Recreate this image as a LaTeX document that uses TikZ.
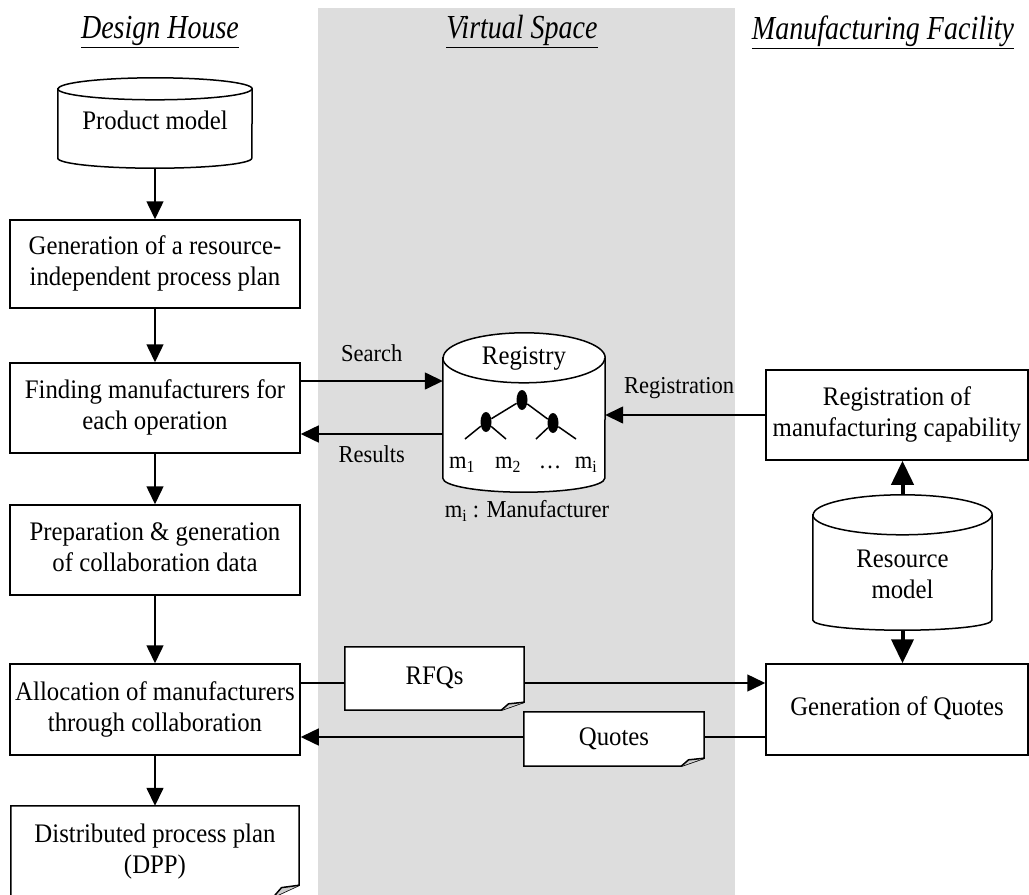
\documentclass[tikz,border=0pt]{standalone}
\usepackage{fontspec}
\setmainfont{Liberation Serif}
\usepackage{graphicx}
\usetikzlibrary{arrows.meta,shapes.geometric}
\definecolor{bandgray}{RGB}{221,221,221}
\definecolor{foldgray}{RGB}{205,205,205}
\pgfdeclarelayer{back}
\pgfdeclarelayer{shapes}
\pgfsetlayers{back,shapes,main}
\newcommand\bodyfont{\fontsize{24.8}{29}\selectfont}
\newcommand\smallfont{\fontsize{22.5}{26}\selectfont}
\newcommand\headfont{\fontsize{28}{32}\selectfont\itshape}
\newcommand\heading[1]{\scalebox{1}[1.2]{\underline{#1}}}
% slightly tall lettering, one or more centred lines
\newcommand\tx[1]{\scalebox{1}[1.08]{\begin{tabular}{@{}c@{}}#1\end{tabular}}}
% drum (database) outline around a named node: #1 node, #2 x radius, #3 top ry, #4 bottom ry
\newcommand\drawdrum[4]{%
  \begin{pgfonlayer}{shapes}
    \filldraw[shapeline, fill=white]
      ([yshift=-#3]#1.north west) -- ([yshift=#4]#1.south west)
      arc[start angle=180, end angle=360, x radius=#2, y radius=#4]
      -- ([yshift=-#3]#1.north east)
      arc[start angle=0, end angle=180, x radius=#2, y radius=#3] -- cycle;
    \draw[shapeline] ([yshift=-#3]#1.north west)
      arc[start angle=180, end angle=360, x radius=#2, y radius=#3];
  \end{pgfonlayer}}
% document sheet with a curled lower right corner: #1 node, #2 fold width, #3 fold height
\newcommand\drawdoc[3]{%
  \begin{pgfonlayer}{shapes}
    \filldraw[shapeline, fill=white]
      (#1.north west) -- (#1.north east) -- ([yshift=#3]#1.south east)
      -- ([xshift=-#2]#1.south east) -- (#1.south west) -- cycle;
    \filldraw[shapeline, fill=foldgray, line join=round]
      ([xshift=-#2]#1.south east) -- ([xshift={-0.68*#2}, yshift={0.8*#3}]#1.south east)
      -- ([yshift=#3]#1.south east);
  \end{pgfonlayer}}

\begin{document}
\begin{tikzpicture}[x=1pt, y=-1pt,
  shapeline/.style={line width=1.5pt, line join=miter},
  box/.style={draw, line width=1.5pt, fill=white, rectangle, inner sep=0pt,
    align=center, font=\bodyfont, minimum width=290pt},
  holder/.style={rectangle, inner sep=0pt, align=center, font=\bodyfont},
  conn/.style={line width=1.5pt},
  arr/.style={line width=1.5pt, -{Triangle[length=18pt,width=17pt]}},
  fatarr/.style={line width=4pt, -{Triangle[length=24pt,width=22pt]}},
  lbl/.style={font=\smallfont, inner sep=0pt},
  knot/.style={ellipse, fill=black, inner sep=0pt, minimum width=11pt, minimum height=20pt},
  twig/.style={line width=1.5pt},
  hdr/.style={font=\headfont, inner sep=0pt}]
\useasboundingbox (0,0) rectangle (1029,895);

% middle lane
\begin{pgfonlayer}{back}
  \fill[bandgray] (318,8) rectangle (735,895);
\end{pgfonlayer}

% lane titles
\node[hdr] (hDesign) at (160,32) {\heading{Design House}};
\node[hdr] (hVirtual) at (522,32) {\heading{Virtual Space}};
\node[hdr] (hFactory) at (883,32) {\heading{Manufacturing Facility}};

% design house flow
\node[holder, minimum width=194pt, minimum height=90pt] (pm) at (155,123) {\tx{Product model}};
\drawdrum{pm}{97pt}{11pt}{10pt}
\node[box, minimum height=88pt] (b2) at (155,264) {\tx{Generation of a resource-\\independent process plan}};
\node[box, minimum height=90pt] (b3) at (155,408) {\tx{Finding manufacturers for\\each operation}};
\node[box, minimum height=90pt] (b4) at (155,550) {\tx{Preparation \& generation\\of collaboration data}};
\node[box, minimum height=91pt] (b5) at (155,709.5) {\tx{Allocation of manufacturers\\through collaboration}};
\node[holder, minimum width=288pt, minimum height=91pt] (dpp) at (155,851.5) {\tx{Distributed process plan\\(DPP)}};
\drawdoc{dpp}{26pt}{12pt}

\draw[arr] (pm) -- (b2);
\draw[arr] (b2) -- (b3);
\draw[arr] (b3) -- (b4);
\draw[arr] (b4) -- (b5);
\draw[arr] (b5) -- (dpp);

% registry
\node[holder, minimum width=162pt, minimum height=159pt] (reg) at (524,412.5) {};
\drawdrum{reg}{81pt}{25pt}{14pt}
\node[holder] (regtxt) at (524,358) {\tx{Registry}};
\node[knot] (k0) at (522,400) {};
\node[knot] (k1) at (486,422) {};
\node[knot] (k2) at (553,423) {};
\coordinate (l1) at (465,439);
\coordinate (l2) at (506,439);
\coordinate (l3) at (536,439);
\coordinate (l4) at (576,439);
\draw[twig] (k0) -- (k1);
\draw[twig] (k0) -- (k2);
\draw[twig] (k1) -- (l1);
\draw[twig] (k1) -- (l2);
\draw[twig] (k2) -- (l3);
\draw[twig] (k2) -- (l4);
\node[lbl] (m1) at (462,463) {\tx{m\textsubscript{1}}};
\node[lbl] (m2) at (508,463) {\tx{m\textsubscript{2}}};
\node[lbl] (mdots) at (550,463) {\tx{\dots}};
\node[lbl] (mi) at (586,463) {\tx{m\textsubscript{i}}};
\node[lbl] (mkey) at (527,512) {\tx{m\textsubscript{i} : Manufacturer}};

\draw[arr] ([yshift=27pt]b3.east) -- ([yshift=27pt]b3.east -| reg.west)
  node[lbl, midway, above=10pt] {\tx{Search}};
\draw[arr] ([yshift=-26pt]b3.east -| reg.west) -- ([yshift=-26pt]b3.east)
  node[lbl, midway, below=8pt] {\tx{Results}};

% manufacturing facility
\node[box, minimum width=262pt, minimum height=90pt] (rgc) at (897,415) {\tx{Registration of\\manufacturing capability}};
\node[holder, minimum width=179pt, minimum height=135pt] (res) at (902.5,562.5) {};
\drawdrum{res}{89.5pt}{20pt}{10pt}
\node[holder] (restxt) at (902.5,577) {\tx{Resource\\model}};
\node[box, minimum width=262pt, minimum height=91pt] (gq) at (897,709.5) {\tx{Generation of Quotes}};

\draw[arr] (rgc.west) -- (rgc.west -| reg.east)
  node[lbl, midway, above=12pt, xshift=-6pt] {\tx{Registration}};
\draw[fatarr] (res.north) -- (res.north |- rgc.south);
\draw[fatarr] (res.south) -- (res.south |- gq.north);

% exchanged documents
\node[holder, minimum width=179pt, minimum height=63pt] (rfq) at (434.5,678.5) {\tx{RFQs}};
\drawdoc{rfq}{23pt}{8pt}
\node[holder, minimum width=180pt, minimum height=54pt] (quo) at (614,739) {\tx{Quotes}};
\drawdoc{quo}{23pt}{8pt}

\draw[conn] ([yshift=26.5pt]b5.east) -- ([yshift=26.5pt]b5.east -| rfq.west);
\draw[arr] ([yshift=26.5pt]b5.east -| rfq.east) -- ([yshift=26.5pt]b5.east -| gq.west);
\draw[conn] ([yshift=-27.5pt]gq.west) -- ([yshift=-27.5pt]gq.west -| quo.east);
\draw[arr] ([yshift=-27.5pt]gq.west -| quo.west) -- ([yshift=-27.5pt]gq.west -| b5.east);
\end{tikzpicture}
\end{document}
